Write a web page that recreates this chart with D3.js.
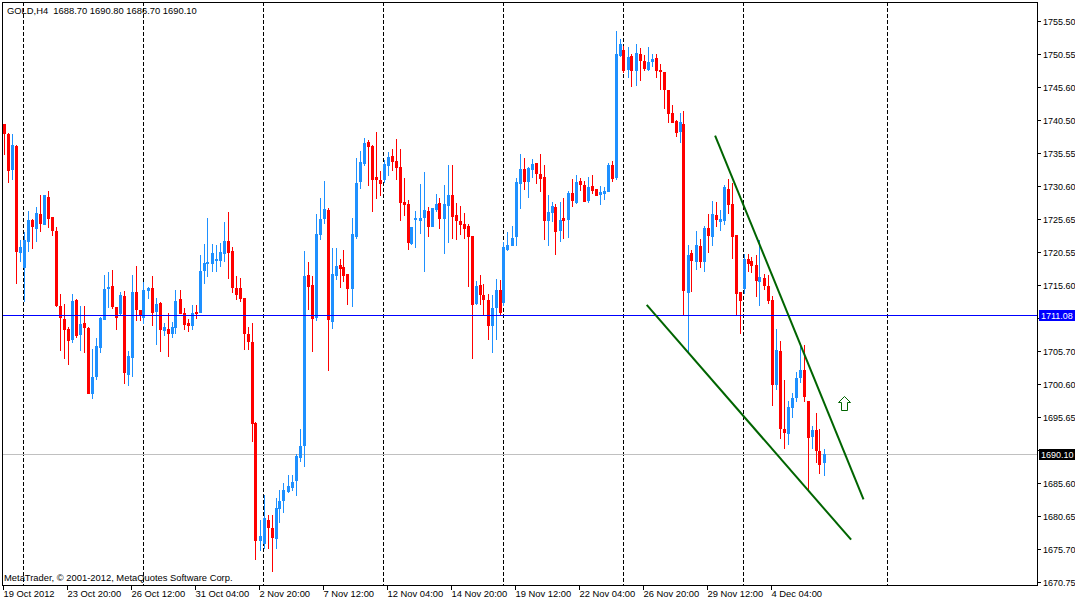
<!DOCTYPE html>
<html>
<head>
<meta charset="utf-8">
<script src="https://cdn.jsdelivr.net/npm/d3@7/dist/d3.min.js"></script>
<style>
  body { margin: 0; background: #fff; }
  svg { display: block; }
  text { font-family: "Liberation Sans", Arial, sans-serif; font-size: 9.4px; fill: #000; white-space: pre; }
  text.price { font-size: 9px; }
</style>
</head>
<body>
<svg id="chart" width="1075" height="602" viewBox="0 0 1075 602"></svg>
<script>
// GOLD H4 bars (oldest first)
const opens = [
  1739.9,1738.4,1733.0,1736.6,1720.4,1718.2,1722.1,1725.4,1724.1,1726.3,
  1724.7,1728.9,1725.9,1723.8,1712.4,1710.5,1709.0,1707.3,1713.3,1708.0,
  1709.9,1709.1,1699.1,1701.7,1706.1,1710.3,1715.0,1715.5,1712.3,1711.2,
  1714.0,1702.0,1704.6,1714.6,1711.8,1710.6,1714.7,1715.2,1711.5,1712.9,
  1708.7,1709.0,1708.2,1709.1,1713.5,1711.4,1709.9,1709.4,1711.5,1711.4,
  1717.7,1718.8,1718.8,1719.2,1719.2,1720.3,1722.3,1720.7,1715.2,1715.2,
  1713.6,1708.2,1707.0,1694.8,1676.9,1676.5,1680.1,1678.9,1677.2,1681.7,
  1683.0,1684.3,1684.9,1686.0,1689.5,1691.3,1717.1,1715.6,1710.6,1723.2,
  1725.6,1726.9,1710.0,1717.0,1718.6,1718.3,1717.3,1715.0,1722.9,1731.2,
  1733.9,1737.2,1736.6,1731.9,1731.5,1731.5,1733.6,1735.1,1734.4,1733.4,
  1728.2,1727.9,1721.8,1725.4,1725.3,1725.7,1726.8,1724.4,1726.9,1728.0,
  1725.6,1727.5,1729.2,1726.2,1725.3,1724.8,1724.5,1723.0,1712.7,1715.6,
  1714.1,1713.3,1709.4,1712.1,1714.9,1712.9,1720.9,1721.5,1722.9,1730.9,
  1733.1,1731.2,1733.0,1734.1,1732.4,1731.9,1725.3,1726.5,1727.4,1723.8,
  1725.7,1725.4,1729.5,1728.0,1731.3,1730.7,1728.3,1730.6,1730.1,1729.2,
  1729.4,1729.7,1733.8,1731.8,1750.2,1751.1,1748.1,1750.2,1748.0,1750.5,
  1749.5,1748.1,1749.3,1749.9,1748.1,1747.8,1745.1,1741.6,1740.4,1738.7,
  1739.9,1714.4,1720.4,1719.1,1721.5,1719.1,1724.2,1722.9,1726.2,1725.1,
  1725.3,1730.1,1727.9,1723.2,1714.6,1715.0,1719.5,1719.2,1718.6,1716.1,
  1716.7,1715.4,1713.3,1700.5,1705.6,1693.8,1693.1,1697.0,1698.5,1701.5,
  1702.8,1698.1,1692.6,1693.7,1690.5,1688.7
];
const highs = [
  1739.9,1738.6,1738.4,1736.8,1722.4,1723.6,1726.8,1725.6,1727.4,1729.2,
  1729.2,1729.8,1725.9,1724.4,1714.3,1712.7,1709.3,1714.3,1713.5,1712.4,
  1712.4,1709.3,1705.9,1707.6,1710.8,1717.1,1717.6,1717.9,1712.3,1714.6,
  1714.7,1705.6,1717.1,1718.5,1711.8,1716.1,1715.3,1717.0,1713.6,1713.0,
  1709.9,1711.4,1710.0,1714.9,1714.9,1712.1,1710.5,1712.6,1712.6,1720.1,
  1721.8,1725.7,1721.8,1721.7,1722.0,1725.1,1726.6,1721.4,1717.0,1716.7,
  1713.6,1709.3,1709.9,1694.9,1680.1,1683.9,1680.8,1680.8,1683.4,1684.6,
  1685.7,1686.9,1686.9,1690.1,1693.8,1720.7,1719.1,1717.0,1726.3,1728.7,
  1731.3,1727.3,1721.2,1721.2,1719.5,1720.9,1717.3,1725.7,1734.8,1735.9,
  1737.8,1737.5,1736.8,1738.7,1732.9,1734.5,1735.7,1736.2,1737.7,1736.2,
  1731.8,1728.5,1724.4,1726.8,1730.9,1732.7,1727.4,1727.3,1729.4,1728.8,
  1730.7,1733.8,1733.8,1728.0,1727.5,1726.5,1724.8,1723.0,1716.2,1717.1,
  1715.8,1714.3,1714.1,1716.5,1716.4,1722.1,1723.6,1724.5,1731.8,1735.4,
  1734.8,1733.5,1734.7,1734.1,1735.4,1733.8,1729.2,1728.2,1727.9,1728.2,
  1728.8,1729.8,1731.6,1732.2,1731.8,1731.3,1731.9,1732.2,1730.1,1730.6,
  1730.4,1734.1,1734.4,1754.0,1752.8,1751.7,1751.6,1750.5,1752.0,1751.4,
  1750.4,1751.6,1750.5,1750.5,1749.0,1747.8,1745.1,1742.8,1740.6,1741.6,
  1741.9,1721.7,1720.9,1723.8,1722.6,1724.5,1726.3,1728.3,1728.2,1726.9,
  1730.7,1731.6,1731.0,1723.2,1714.6,1720.3,1720.3,1719.8,1720.1,1722.4,
  1717.3,1717.1,1713.9,1708.9,1707.1,1701.3,1698.1,1699.3,1702.5,1706.8,
  1706.5,1698.1,1694.3,1696.3,1693.8,1690.8
];
const lows = [
  1735.3,1731.0,1731.5,1715.8,1719.1,1713.0,1720.6,1721.0,1722.1,1723.6,
  1724.7,1724.2,1723.0,1712.3,1705.6,1704.4,1703.5,1706.8,1707.6,1705.6,
  1705.3,1699.1,1698.4,1701.3,1705.3,1710.3,1712.1,1712.0,1708.8,1711.1,
  1700.6,1700.3,1701.7,1710.2,1710.2,1709.7,1713.5,1709.4,1706.5,1705.5,
  1707.9,1704.7,1707.6,1708.2,1711.2,1708.8,1708.5,1708.8,1710.5,1711.4,
  1715.8,1716.8,1717.6,1717.6,1718.3,1719.1,1716.5,1714.4,1713.3,1713.0,
  1705.8,1705.8,1691.9,1674.0,1675.4,1675.7,1675.7,1672.2,1675.7,1679.6,
  1681.1,1684.2,1684.4,1683.7,1688.9,1688.1,1711.8,1705.5,1710.2,1722.4,
  1724.8,1702.6,1709.0,1716.4,1715.2,1716.1,1712.6,1712.3,1722.6,1730.1,
  1733.6,1730.6,1726.6,1728.6,1729.1,1731.0,1732.1,1732.8,1731.5,1725.3,
  1726.0,1720.9,1721.7,1721.2,1723.3,1717.6,1722.9,1724.4,1726.6,1724.1,
  1720.3,1722.0,1722.6,1722.4,1723.2,1722.6,1715.3,1704.4,1712.6,1712.6,
  1710.9,1707.3,1705.3,1707.3,1711.1,1712.4,1720.7,1721.5,1721.5,1727.1,
  1730.0,1728.8,1731.8,1730.9,1729.7,1722.4,1721.5,1725.1,1720.1,1722.1,
  1722.6,1722.7,1727.4,1727.9,1729.8,1728.2,1728.0,1729.4,1729.1,1727.7,
  1728.5,1729.7,1731.2,1731.5,1750.1,1747.7,1746.9,1745.5,1745.7,1746.4,
  1748.0,1748.0,1748.6,1746.9,1745.1,1742.2,1740.1,1740.1,1738.0,1737.1,
  1711.1,1705.5,1714.6,1717.9,1718.2,1717.6,1720.4,1721.5,1724.4,1723.8,
  1724.7,1726.3,1719.5,1711.1,1708.2,1714.3,1717.6,1717.4,1713.8,1712.4,
  1714.9,1712.7,1697.3,1699.7,1692.3,1690.8,1691.4,1695.5,1697.9,1700.8,
  1697.9,1684.3,1690.8,1688.7,1687.0,1686.7
];
const closes = [
  1738.4,1732.8,1736.8,1720.6,1721.4,1722.4,1725.4,1724.4,1726.5,1724.8,
  1729.2,1725.6,1723.8,1712.4,1710.6,1708.8,1707.1,1713.2,1707.9,1709.7,
  1709.1,1699.1,1701.7,1706.4,1710.6,1715.0,1715.3,1712.3,1710.6,1714.1,
  1702.3,1704.9,1714.6,1711.8,1710.9,1714.9,1715.2,1711.4,1712.7,1708.8,
  1709.3,1708.2,1709.3,1713.2,1711.2,1709.6,1709.4,1711.4,1711.2,1717.7,
  1718.9,1719.1,1720.4,1719.5,1720.6,1722.3,1720.4,1715.2,1714.1,1713.5,
  1708.2,1707.0,1694.6,1676.9,1677.7,1680.4,1678.9,1677.4,1681.9,1683.0,
  1684.6,1685.2,1685.8,1689.8,1691.3,1717.0,1715.3,1710.5,1723.3,1725.6,
  1727.1,1710.3,1717.3,1718.5,1718.0,1717.0,1715.0,1723.3,1731.0,1734.2,
  1737.1,1736.5,1731.5,1731.5,1730.9,1733.9,1735.0,1734.2,1733.3,1728.0,
  1727.7,1722.0,1724.4,1725.7,1725.7,1726.9,1724.4,1727.3,1727.9,1725.6,
  1727.9,1729.2,1725.9,1725.3,1724.7,1724.1,1722.9,1712.6,1715.5,1714.1,
  1713.3,1709.4,1712.1,1714.9,1711.4,1721.4,1721.7,1722.7,1731.2,1733.1,
  1731.2,1733.3,1733.9,1732.4,1731.6,1725.3,1726.6,1727.6,1723.6,1725.4,
  1725.3,1729.5,1728.3,1731.2,1730.7,1728.2,1730.4,1729.8,1729.1,1729.7,
  1729.8,1733.8,1731.6,1750.5,1752.0,1748.0,1750.1,1748.0,1750.7,1749.5,
  1748.3,1749.3,1749.8,1748.0,1747.8,1745.1,1741.5,1740.1,1738.6,1740.3,
  1714.7,1720.1,1719.2,1721.7,1719.1,1724.2,1723.0,1726.3,1725.4,1725.6,
  1730.4,1727.7,1722.9,1714.3,1713.2,1719.5,1718.8,1718.5,1716.2,1716.8,
  1715.4,1713.2,1700.5,1705.8,1693.8,1693.2,1697.2,1698.5,1701.5,1702.8,
  1698.7,1692.5,1693.7,1690.5,1688.4,1690.1
];

// price scale ticks (right side); the two under the price boxes carry no label
const priceTicks = [1755.50, 1750.55, 1745.60, 1740.50, 1735.55, 1730.60, 1725.65, 1720.55,
  1715.60, 1710.65, 1705.70, 1700.60, 1695.65, 1690.70, 1685.60, 1680.65, 1675.70, 1670.75];
const hiddenTicks = [1710.65, 1690.70];

// time scale labels and the bar index each one sits on
const timeLabels = ["19 Oct 2012", "23 Oct 20:00", "26 Oct 12:00", "31 Oct 04:00", "2 Nov 20:00",
  "7 Nov 12:00", "12 Nov 04:00", "14 Nov 20:00", "19 Nov 12:00", "22 Nov 04:00",
  "26 Nov 20:00", "29 Nov 12:00", "4 Dec 04:00"];
const timeLabelBars = [0, 16, 32, 48, 64, 80, 96, 112, 128, 144, 160, 176, 192];

// week separators (bar index)
const separatorBars = [5, 35, 65, 95, 125, 155, 185, 221];

// horizontal lines
const userLevel = 1711.08;
const bidLevel = 1690.10;

// trend lines drawn on the chart: [barIndex, price] end points
const upperTrend = [[177.9, 1738.2], [215.0, 1683.2]];
const lowerTrend = [[160.8, 1712.6], [211.9, 1677.1]];
const arrowMark = [210.1, 1698.8];

const header = "GOLD,H4  1688.70 1690.80 1686.70 1690.10";
const copyright = "MetaTrader, \u00a9 2001-2012, MetaQuotes Software Corp.";

const bars = opens.map((o, i) => ({ i, o, h: highs[i], l: lows[i], c: closes[i] }));

const plot = { left: 2, top: 2, right: 1037, bottom: 585 };

const x = d3.scaleLinear().domain([0, 258]).range([3.5, 1035.5]);
const y = d3.scaleLinear().domain([1670.75, 1755.5]).range([581.7, 21.1]);

const svg = d3.select("#chart");
svg.append("rect").attr("width", 1075).attr("height", 602).attr("fill", "#fff");

const sharp = (v) => Math.round(v) + 0.5;

// separators
svg.append("g")
  .selectAll("line")
  .data(separatorBars)
  .enter()
  .append("line")
  .attr("x1", (d) => sharp(x(d) - 0.5))
  .attr("x2", (d) => sharp(x(d) - 0.5))
  .attr("y1", plot.top)
  .attr("y2", plot.bottom)
  .attr("stroke", "#000")
  .attr("stroke-dasharray", "4,2")
  .attr("shape-rendering", "crispEdges");

// bid line
svg.append("line")
  .attr("x1", plot.left).attr("x2", plot.right)
  .attr("y1", sharp(y(bidLevel))).attr("y2", sharp(y(bidLevel)))
  .attr("stroke", "#c0c0c0")
  .attr("shape-rendering", "crispEdges");

// candles
const candleG = svg.append("g").attr("shape-rendering", "crispEdges");
const candle = candleG.selectAll("g").data(bars).enter().append("g");
const colorOf = (d) => (d.c >= d.o ? "#1e90ff" : "#ff0000");

candle.append("rect")
  .attr("x", (d) => Math.round(x(d.i)))
  .attr("y", (d) => Math.round(y(d.h)))
  .attr("width", 1)
  .attr("height", (d) => Math.max(1, Math.round(y(d.l)) - Math.round(y(d.h))))
  .attr("fill", colorOf);

candle.append("rect")
  .attr("x", (d) => Math.round(x(d.i)) - 1)
  .attr("y", (d) => Math.round(y(Math.max(d.o, d.c))))
  .attr("width", 3)
  .attr("height", (d) => Math.max(1, Math.round(y(Math.min(d.o, d.c))) - Math.round(y(Math.max(d.o, d.c)))))
  .attr("fill", colorOf);

// user horizontal line
svg.append("line")
  .attr("x1", plot.left).attr("x2", plot.right)
  .attr("y1", sharp(y(userLevel))).attr("y2", sharp(y(userLevel)))
  .attr("stroke", "#0000ff")
  .attr("shape-rendering", "crispEdges");

// trend lines
const trendLine = d3.line().x((d) => x(d[0])).y((d) => y(d[1]));
svg.selectAll(".trend")
  .data([upperTrend, lowerTrend])
  .enter()
  .append("path")
  .attr("class", "trend")
  .attr("d", trendLine)
  .attr("fill", "none")
  .attr("stroke", "#006400")
  .attr("stroke-width", 2);

// arrow up mark
svg.append("path")
  .attr("transform", `translate(${Math.round(x(arrowMark[0])) + 0.5} ${Math.round(y(arrowMark[1])) + 0.5})`)
  .attr("d", "M0,0 L6,6 L3,6 L3,14 L-3,14 L-3,6 L-6,6 Z")
  .attr("fill", "#fff")
  .attr("stroke", "#006400")
  .attr("stroke-width", 1);

// frame
svg.append("rect")
  .attr("x", plot.left + 0.5).attr("y", plot.top + 0.5)
  .attr("width", plot.right - plot.left).attr("height", plot.bottom - plot.top)
  .attr("fill", "none").attr("stroke", "#000")
  .attr("shape-rendering", "crispEdges");

// right price axis
const yAxisG = svg.append("g");
yAxisG.selectAll("line")
  .data(priceTicks)
  .enter()
  .append("line")
  .attr("x1", plot.right).attr("x2", plot.right + 4)
  .attr("y1", (d) => sharp(y(d))).attr("y2", (d) => sharp(y(d)))
  .attr("stroke", "#000")
  .attr("shape-rendering", "crispEdges");
yAxisG.selectAll("text")
  .data(priceTicks.filter((d) => !hiddenTicks.includes(d)))
  .enter()
  .append("text")
  .attr("class", "price")
  .attr("x", plot.right + 6)
  .attr("y", (d) => Math.round(y(d)) + 4)
  .text((d) => d.toFixed(2));

// price boxes on the axis
const boxes = [
  { v: userLevel, fill: "#0000ff" },
  { v: bidLevel, fill: "#000000" },
];
const boxG = svg.selectAll(".pbox").data(boxes).enter().append("g").attr("class", "pbox");
boxG.append("rect")
  .attr("x", plot.right + 2)
  .attr("y", (d) => Math.round(y(d.v)) - 5)
  .attr("width", 36)
  .attr("height", 11)
  .attr("fill", (d) => d.fill)
  .attr("shape-rendering", "crispEdges");
boxG.append("text")
  .attr("class", "price")
  .attr("x", plot.right + 4)
  .attr("y", (d) => Math.round(y(d.v)) + 4)
  .style("fill", "#fff")
  .text((d) => d.v.toFixed(2));

// bottom time axis
const xAxisG = svg.append("g");
xAxisG.selectAll("line")
  .data(timeLabelBars)
  .enter()
  .append("line")
  .attr("x1", (d) => sharp(x(d) - 1)).attr("x2", (d) => sharp(x(d) - 1))
  .attr("y1", plot.bottom).attr("y2", plot.bottom + 5)
  .attr("stroke", "#000")
  .attr("shape-rendering", "crispEdges");
xAxisG.selectAll("text")
  .data(timeLabelBars)
  .enter()
  .append("text")
  .attr("x", (d) => Math.round(x(d)) - 0.5)
  .attr("y", 597)
  .text((d, i) => timeLabels[i]);

// texts in the chart
svg.append("text").attr("x", 7).attr("y", 14).text(header);
svg.append("text").attr("x", 4).attr("y", 581).text(copyright);
</script>
</body>
</html>
